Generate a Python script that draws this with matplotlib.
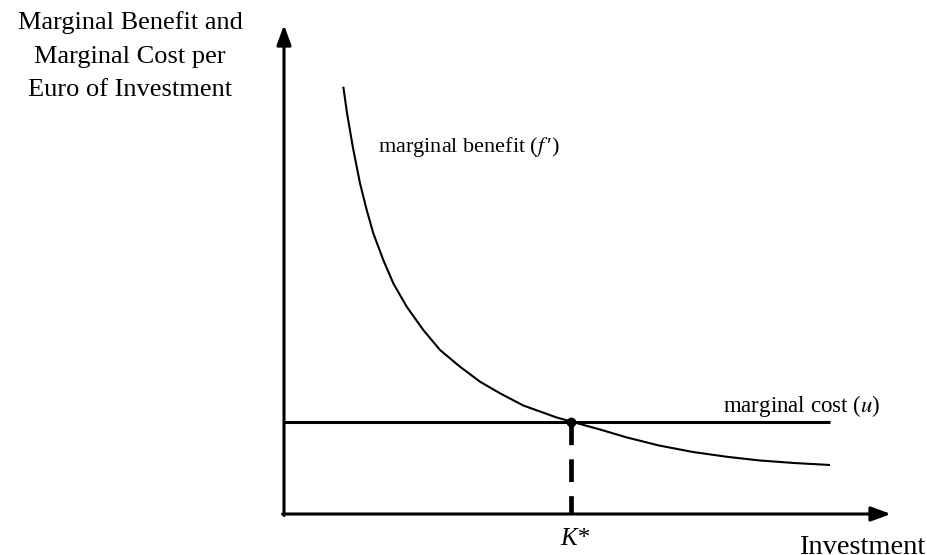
import numpy as np
import matplotlib.pyplot as plt

# values (investment, euro per unit)
benefit_x = [5.93, 6.3, 6.9, 7.6, 8.27, 8.93, 9.93, 10.93, 12.27, 13.93, 15.6, 17.6, 19.6,
             21.6, 23.93, 27.27, 28.7, 31.6, 34.3, 37.5, 40.9, 44.3, 47.6, 51.0, 54.6]
benefit_y = [42.73, 40.1, 36.6, 33.07, 30.4, 28.07, 25.4, 23.07, 20.73, 18.4, 16.4, 14.73,
             13.23, 12.07, 10.85, 9.65, 9.25, 8.45, 7.65, 6.85, 6.2, 5.72, 5.35, 5.1, 4.9]
cost_u = 9.25
k_star = 28.7
x_end = 54.6

plt.rcParams['font.family'] = ['Liberation Serif', 'DejaVu Serif']
plt.rcParams['mathtext.fontset'] = 'stix'

fig = plt.figure(figsize=(9.28, 5.55), dpi=100)
ax = fig.add_axes([0, 0, 1, 1])
ax.set_xlim(-28.4, 64.4)
ax.set_ylim(-4.1, 51.4)
ax.axis('off')

# axes with arrows
arrow = dict(arrowstyle='-|>,head_length=0.6,head_width=0.22', color='black',
             lw=2.2, mutation_scale=20, shrinkA=0, shrinkB=0)
ax.annotate('', xy=(0, 48.9), xytext=(0, -0.15), arrowprops=arrow)
ax.annotate('', xy=(60.7, 0), xytext=(-0.15, 0), arrowprops=arrow)

ax.plot(benefit_x, benefit_y, color='black', lw=1.5, solid_capstyle='butt',
        solid_joinstyle='round')
ax.plot([0, x_end], [cost_u, cost_u], color='black', lw=2.2, solid_capstyle='butt')
ax.plot([k_star, k_star], [cost_u, 0], color='black', lw=3.4,
        linestyle=(0, (4.8, 3.0)), dash_capstyle='butt')
ax.plot([k_star], [cost_u], 'o', color='black', markersize=6)

ax.text(-15.4, 50.3, 'Marginal Benefit and\nMarginal Cost per\nEuro of Investment',
        ha='center', va='top', fontsize=19, linespacing=1.68)
ax.text(9.4, 36.2, "marginal benefit ($f\\,$′)", ha='left', va='baseline', fontsize=16)
ax.text(59.6, 10.2, 'marginal cost ($u$)', ha='right', va='baseline', fontsize=16.5)
ax.text(k_star + 0.4, -3.1, 'K*', ha='center', va='baseline', fontsize=18, style='italic')
ax.text(64.1, -4.0, 'Investment', ha='right', va='baseline', fontsize=20.5)

fig.savefig('out.png', dpi=100)
